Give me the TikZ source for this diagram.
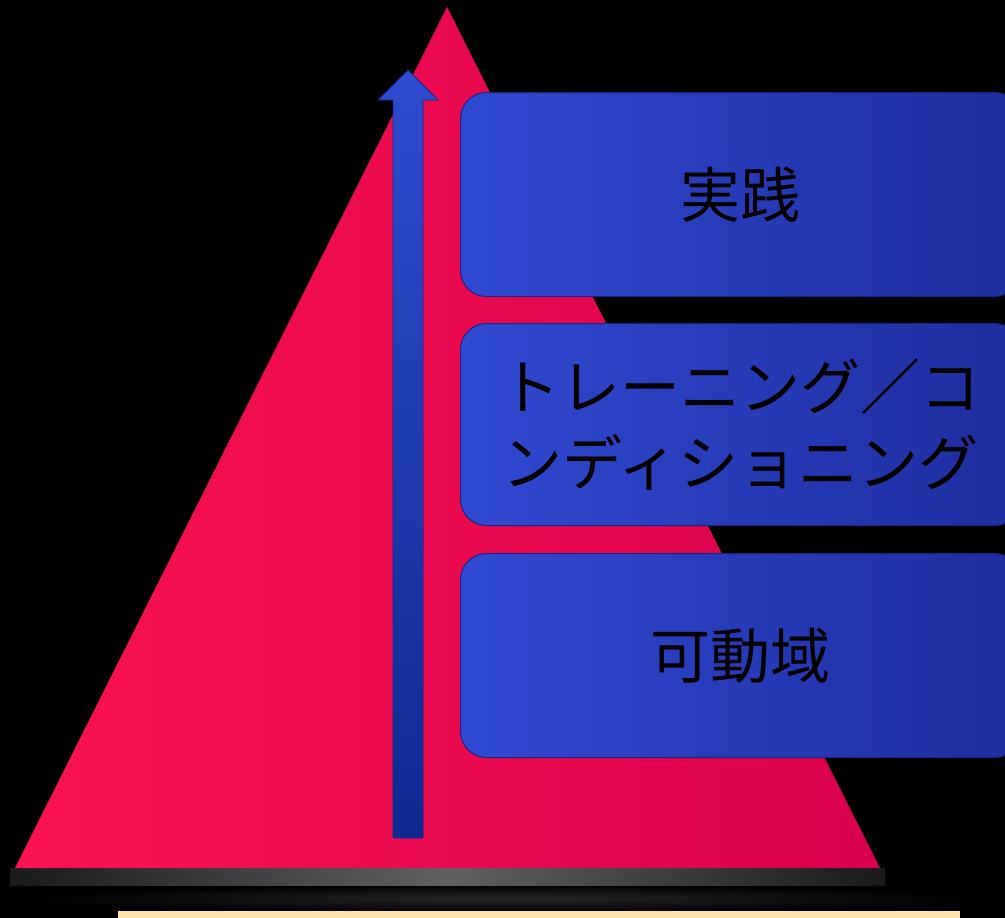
\documentclass[tikz,border=0pt]{standalone}
\usepackage{fontspec}
\newfontfamily\jpfont{Noto Sans CJK JP}
\usetikzlibrary{shapes.geometric,calc}
\definecolor{pinkL}{HTML}{FA1350}
\definecolor{pinkR}{HTML}{D8004E}
\definecolor{boxL}{HTML}{3049D2}
\definecolor{boxR}{HTML}{1E2D9E}
\definecolor{arrL}{HTML}{2F4BCF}
\definecolor{arrD}{HTML}{0E2A90}
\definecolor{strip}{HTML}{FFE2AC}
\tikzset{
  px/.style={x=1pt,y=-1pt},
  bluebox/.style={draw=boxR!80!black, line width=1pt, rounded corners=26pt, left color=boxL, right color=boxR, minimum width=560pt, anchor=north west, inner sep=0pt, font=\jpfont\fontsize{60}{76}\selectfont, text=black, align=center},
}
\begin{document}
\begin{tikzpicture}[px]
\useasboundingbox (0,0) rectangle (1005,918);
\fill[black] (0,0) rectangle (1005,918);
% base shadow
\shade[inner color=black!85, outer color=black] (20,885) rectangle (990,912);
\shade[left color=black!90, right color=black!90, middle color=black!62] (10,868) rectangle (885,885);
\fill[strip] (118,911) rectangle (960,918);
% triangle
\coordinate (apex) at (447,7);
\coordinate (bl) at (15,868);
\coordinate (br) at (880,868);
\shade[left color=pinkL, right color=pinkR] (apex) -- (br) -- (bl) -- cycle;
% arrow
\coordinate (abot) at (408,838);
\coordinate (atip) at (408,70);
\shade[top color=arrL, bottom color=arrD, draw=arrD, line width=0.8pt]
  ($(abot)+(-15,0)$) -- ($(atip)+(-15,30)$) -- ($(atip)+(-30,30)$) -- (atip) -- ($(atip)+(30,30)$) -- ($(atip)+(15,30)$) -- ($(abot)+(15,0)$) -- cycle;
% boxes
\node[bluebox, minimum height=204pt] (b1) at (460,92) {実践};
\node[bluebox, minimum height=202pt] (b2) at (460,323) {トレーニング／コ\\ンディショニング};
\node[bluebox, minimum height=204pt] (b3) at (460,553) {可動域};
\end{tikzpicture}
\end{document}
